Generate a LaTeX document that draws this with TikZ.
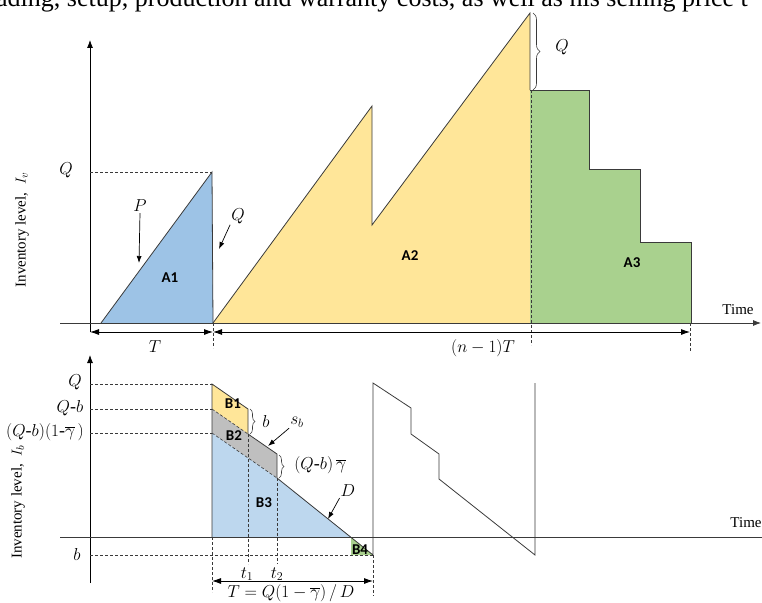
\documentclass[tikz,border=0pt]{standalone}
\usepackage{fontspec}
\setmainfont{Liberation Serif}
\newfontfamily\arealabel{Carlito}
\usetikzlibrary{calc}
\usetikzlibrary{decorations.pathreplacing}
\usetikzlibrary{arrows.meta}

\definecolor{fillA}{HTML}{9DC3E6}
\definecolor{fillY}{HTML}{FFE699}
\definecolor{fillG}{HTML}{A9D18E}
\definecolor{fillS}{HTML}{BFBFBF}
\definecolor{fillB}{HTML}{BDD7EE}
\definecolor{edge}{HTML}{3A3A3A}

\begin{document}
\begin{tikzpicture}[x=1pt, y=-1pt,
      axis/.style={-{Latex[length=8pt,width=6pt]}, line width=0.8pt},
      outline/.style={draw=edge, line width=0.8pt},
      guide/.style={draw=edge, dashed, dash pattern=on 3pt off 2pt, line width=0.6pt},
      dim/.style={{Latex[length=9pt,width=6pt]}-{Latex[length=9pt,width=6pt]}, line width=0.8pt},
      pointer/.style={-{Latex[length=7pt,width=5pt]}, line width=0.7pt},
      curly/.style={decorate, decoration={brace, amplitude=5pt}, draw=edge, line width=0.6pt},
      area/.style={font=\arealabel\bfseries\fontsize{15}{15}\selectfont, inner sep=1pt},
      lbl/.style={font=\fontsize{15}{15}\selectfont, inner sep=1pt},
      mlbl/.style={font=\fontsize{18}{18}\selectfont, inner sep=1pt},
    ]
    \useasboundingbox (0,0) rectangle (762,602);

    % caption line cut off at the top
    \begin{scope}
      \clip (0,0) rectangle (762,602);
      \node[anchor=base west, inner sep=0, font=\fontsize{26}{26}\selectfont] (cap) at (-4,7)
        {ading, setup, production and warranty costs, as well as his selling price t};
    \end{scope}

    % ---- upper chart: vendor inventory ----
    \coordinate (v0) at (90,332);
    \coordinate (vtop) at (90,40);
    \coordinate (h0) at (60,323);
    \coordinate (hend) at (761,323);
    \coordinate (pk1) at (212,172);
    \coordinate (brtop) at (533,13);
    \coordinate (brbot) at (533,90);

    \fill[fillA] (101,323) -- (pk1) -- (213,323) -- cycle;
    \fill[fillY] (213,323) -- (372,106) -- (372,225) -- (530,13) -- (530,323) -- cycle;
    \fill[fillG] (530,90) -- (589,90) -- (589,169) -- (640,169) -- (640,242)
      -- (691,242) -- (691,323) -- (530,323) -- cycle;

    \draw[outline] (101,323) -- (pk1) -- (213,323);
    \draw[outline] (213,323) -- (372,106) -- (372,225) -- (530,13) -- (530,90);
    \draw[outline] (530,90) -- (589,90) -- (589,169) -- (640,169) -- (640,242)
      -- (691,242) -- (691,323);
    \draw[guide] (531,90) -- (531,345);

    \draw[axis] (v0) -- (vtop);
    \draw[axis, draw=edge] (h0) -- (hend);
    \draw[guide] (v0 |- pk1) -- (pk1);

    \node[mlbl] (qv) at (66,170) {$Q$};
    \node[lbl] (tv) at (738,310) {Time};
    \node[lbl, rotate=90] (ylv) at (22,230) {Inventory level, \ $I_v$};

    \node[area] (a1) at (170,278) {A1};
    \node[area] (a2) at (410,256) {A2};
    \node[area] (a3) at (632,263) {A3};

    % rates
    \node[mlbl] (pr) at (140,206) {$P$};
    \coordinate (prtip) at (139,263);
    \draw[pointer] (pr.south) -- (prtip);
    \node[mlbl] (qr) at (238,216) {$Q$};
    \coordinate (qrtip) at (219,249);
    \draw[pointer] (qr.south west) -- (qrtip);

    \draw[curly, decoration={amplitude=7pt}] (brtop) -- (brbot);
    \node[mlbl] (qbr) at (562,47) {$Q$};

    % periods
    \coordinate (d0) at (90,332);
    \coordinate (d1) at (213,332);
    \coordinate (d2) at (690,332);
    \draw[dim] (d0) -- (d1);
    \draw[dim] (d1) -- (d2);
    \draw[guide] (213,323) -- (213,348);
    \draw[guide] (690,323) -- (690,352);
    \node[mlbl] (tper) at (155,347) {$T$};
    \node[mlbl] (nper) at (483,348) {$(n-1)T$};

    % ---- lower chart: buyer inventory ----
    \coordinate (w0) at (90,583);
    \coordinate (wtop) at (90,355);
    \coordinate (g0) at (60,537);
    \coordinate (gend) at (762,537);

    \fill[fillY] (212,384) -- (248,409) -- (248,434) -- (212,409) -- cycle;
    \fill[fillS] (212,409) -- (248,434) -- (277,454) -- (277,478) -- (212,433) -- cycle;
    \fill[fillB] (212,433) -- (277,478) -- (351,537) -- (212,537) -- cycle;
    \fill[fillG] (351,537) -- (373,555) -- (351,555) -- cycle;

    \draw[axis] (w0) -- (wtop);
    \draw[draw=edge, line width=0.8pt] (g0) -- (gend);

    \draw[guide] (212,409) -- (248,434);
    \draw[guide] (212,433) -- (277,478);
    \draw[guide] (90,384) -- (212,384);
    \draw[guide] (90,409) -- (212,409);
    \draw[guide] (90,433) -- (212,433);
    \draw[guide] (90,555) -- (373,555);
    \draw[guide] (212,537) -- (212,592);
    \draw[guide] (248,434) -- (248,564);
    \draw[guide] (277,478) -- (277,564);
    \draw[guide] (373,555) -- (373,596);

    \draw[outline] (212,537) -- (212,384) -- (248,409) -- (248,434) -- (277,454)
      -- (277,478) -- (373,555) -- (373,383) -- (411,408) -- (411,434) -- (439,454)
      -- (439,479) -- (535,555) -- (535,383);

    \node[mlbl] (qb) at (75,382) {$Q$};
    \node[mlbl] (qmb) at (70,408) {$Q$-$b$};
    \node[mlbl] (qg) at (45,432) {$(Q$-$b)(1$-$\overline{\gamma}\,)$};
    \node[mlbl] (bb) at (77,554) {$b$};
    \node[lbl] (tb) at (746,523) {Time};
    \node[lbl, rotate=90] (ylb) at (18,502) {Inventory level, \ $I_b$};

    \node[area] (b1) at (233,404) {B1};
    \node[area] (b2) at (234,436) {B2};
    \node[area] (b3) at (264,503) {B3};
    \node[area] (b4) at (360,550) {B4};

    \draw[curly] (250,409) -- (250,434);
    \node[mlbl] (bl) at (266,421) {$b$};
    \draw[curly] (279,455) -- (279,478);
    \node[mlbl] (qgl) at (320,465) {$(Q$-$b)\,\overline{\gamma}$};

    \node[mlbl] (sb) at (297,422) {$s_b$};
    \coordinate (sbtip) at (268,446);
    \draw[pointer] (sb.south west) -- (sbtip);
    \node[mlbl] (dr) at (348,491) {$D$};
    \coordinate (drtip) at (328,519);
    \draw[pointer] (dr.south west) -- (drtip);

    \node[mlbl] (t1) at (247,574) {$t_1$};
    \node[mlbl] (t2) at (277,574) {$t_2$};
    \coordinate (e0) at (212,581);
    \coordinate (e1) at (373,581);
    \draw[dim] (e0) -- (e1);
    \node[mlbl] (tlen) at (291,593) {$T = Q(1-\overline{\gamma})\,/\,D$};
\end{tikzpicture}
\end{document}
